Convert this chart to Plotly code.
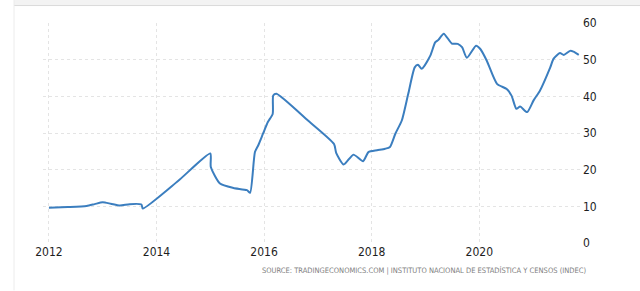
import plotly.graph_objects as go

# decimal year, value
years = [2012.0, 2012.35, 2012.7, 2012.85, 2013.0, 2013.15, 2013.32, 2013.5, 2013.72, 2013.745,
         2014.4, 2015.0, 2015.01, 2015.18, 2015.43, 2015.68, 2015.74, 2015.83, 2015.89, 2015.98,
         2016.07, 2016.16, 2016.17, 2016.23, 2016.8, 2017.3, 2017.34, 2017.48, 2017.66, 2017.84,
         2017.94, 2018.1, 2018.25, 2018.34, 2018.44, 2018.56, 2018.68, 2018.8, 2018.86, 2018.93,
         2019.09, 2019.18, 2019.24, 2019.34, 2019.49, 2019.6, 2019.68, 2019.77, 2019.94, 2020.02,
         2020.14, 2020.33, 2020.51, 2020.6, 2020.69, 2020.76, 2020.89, 2021.01, 2021.13, 2021.32,
         2021.38, 2021.5, 2021.57, 2021.69, 2021.75, 2021.85]
inflation = [9.6, 9.8, 10.1, 10.6, 11.1, 10.7, 10.2, 10.6, 10.5, 9.4,
             16.9, 24.4, 20.7, 16.2, 15.0, 14.4, 13.7, 24.8, 26.6, 29.8,
             33.0, 35.2, 40.2, 40.7, 33.6, 27.0, 24.6, 21.4, 24.1, 22.3,
             24.8, 25.3, 25.7, 26.2, 29.8, 33.4, 40.7, 47.9, 48.6, 47.5,
             51.1, 54.7, 55.4, 57.1, 54.4, 54.3, 53.4, 50.5, 53.8, 52.9,
             49.7, 43.4, 42.0, 40.2, 36.6, 37.2, 35.7, 38.9, 41.6, 47.9,
             50.2, 51.8, 51.3, 52.4, 52.2, 51.3]

x_ticks = [2012, 2014, 2016, 2018, 2020]
x_labels = ["2012", "2014", "2016", "2018", "2020"]
y_ticks = [0, 10, 20, 30, 40, 50, 60]

fig = go.Figure()
fig.add_trace(go.Scatter(x=years, y=inflation, mode="lines",
                         line=dict(color="#3b7ebf", width=2, shape="spline", smoothing=0.6),
                         hoverinfo="skip", showlegend=False))

L, R, T, B = 43, 58, 23, 47.5
W, H = 640, 291
pw, ph = W - L - R, H - T - B

def px(xp):
    return (xp - L) / pw
def py(yp):
    return (H - B - yp) / ph

tick_font = dict(family="DejaVu Sans Condensed, sans-serif", size=12, color="#1e1e1e")

fig.update_layout(
    width=W, height=H,
    margin=dict(l=L, r=R, t=T, b=B, pad=0),
    paper_bgcolor="white", plot_bgcolor="white",
    xaxis=dict(range=[2011.89, 2021.91], tickvals=x_ticks, ticktext=x_labels,
               showgrid=True, gridcolor="#e4e4e4", griddash="dot", gridwidth=1,
               zeroline=False, showline=False, ticks="", tickfont=tick_font),
    yaxis=dict(range=[0, 60], tickvals=y_ticks, side="right",
               showgrid=True, gridcolor="#e4e4e4", griddash="dot", gridwidth=1,
               zeroline=False, showline=False, ticks="", tickfont=tick_font),
    shapes=[
        dict(type="rect", xref="paper", yref="paper", x0=px(14), x1=px(640), y0=py(0), y1=py(5.5),
             fillcolor="#f3f3f3", line=dict(width=0), layer="below"),
        dict(type="line", xref="paper", yref="paper", x0=px(14), x1=px(640), y0=py(5.5), y1=py(5.5),
             line=dict(color="#dadada", width=1)),
        dict(type="line", xref="paper", yref="paper", x0=px(14), x1=px(14), y0=py(0), y1=py(291),
             line=dict(color="#ececec", width=1)),
    ],
    annotations=[
        dict(text="SOURCE: TRADINGECONOMICS.COM | INSTITUTO NACIONAL DE ESTADÍSTICA Y CENSOS (INDEC)",
             xref="paper", yref="paper", x=px(588), y=py(271), xanchor="right", yanchor="middle",
             showarrow=False,
             font=dict(family="DejaVu Sans Condensed, sans-serif", size=7.5, color="#808080")),
    ],
)

fig.write_html("out.html")
